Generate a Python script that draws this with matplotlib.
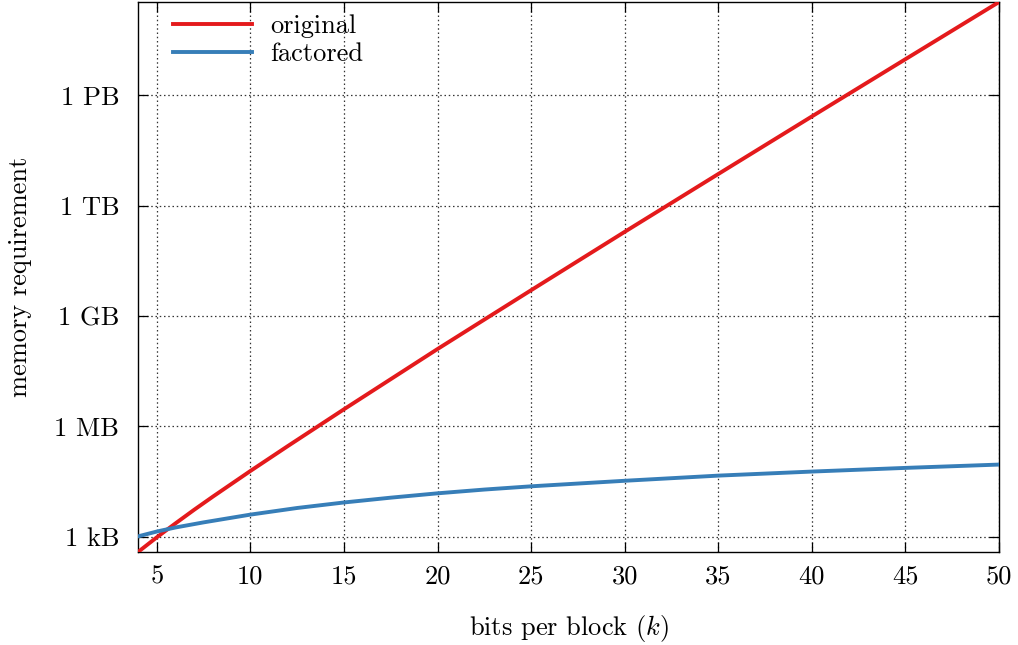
import matplotlib
matplotlib.use("Agg")
import matplotlib.pyplot as plt
from matplotlib.patches import Rectangle

# Data (bytes)
k_original = [4, 5, 6, 7, 8, 10, 12, 15, 20, 25, 30, 35, 40, 45, 50]
mem_original = [384, 960, 2.3e3, 5.4e3, 1.23e4, 6.1e4, 2.9e5, 2.9e6, 1.26e8,
                5.0e9, 1.93e11, 7.2e12, 2.64e14, 9.5e15, 3.4e17]
k_factored = [4, 5, 6, 7.5, 10, 12.5, 15, 17.5, 20, 22.5, 25, 30, 35, 40, 45, 50]
mem_factored = [1020, 1380, 1780, 2450, 3980, 6030, 8510, 11500, 15100, 19100,
                23400, 33100, 45700, 58900, 74100, 91200]

ytick_vals = [1e3, 1e6, 1e9, 1e12, 1e15]
ytick_labels = ["1 kB", "1 MB", "1 GB", "1 TB", "1 PB"]
xtick_vals = [5, 10, 15, 20, 25, 30, 35, 40, 45, 50]

plt.rcParams['font.family'] = ['cmr10', 'DejaVu Serif']
plt.rcParams['mathtext.fontset'] = 'cm'
plt.rcParams['axes.unicode_minus'] = False
plt.rcParams['axes.formatter.use_mathtext'] = True

fs = 19
fig = plt.figure(figsize=(10.18, 6.45), dpi=100)
ax = fig.add_axes([0.1356, 0.1442, 0.8458, 0.8527])

ax.plot(k_original, mem_original, color='#e41a1c', lw=2.8, label='original', zorder=3)
ax.plot(k_factored, mem_factored, color='#377eb8', lw=2.8, label='factored', zorder=3)

ax.set_yscale('log')
ax.set_xlim(4, 50)
ax.set_ylim(384, 3.4e17)
ax.set_yticks(ytick_vals)
ax.set_yticklabels(ytick_labels)
ax.set_xticks(xtick_vals)
ax.set_xticklabels([str(v) for v in xtick_vals])
ax.yaxis.set_minor_locator(matplotlib.ticker.NullLocator())
ax.xaxis.set_minor_locator(matplotlib.ticker.NullLocator())

ax.tick_params(direction='in', length=7, width=0.9, top=True, right=True,
               labelsize=fs, colors='black')
ax.tick_params(axis='y', pad=13.5)
ax.tick_params(axis='x', pad=9)
ax.grid(True, linestyle=(0, (1.2, 2.2)), color='#333333', linewidth=0.9, zorder=0)
for s in ax.spines.values():
    s.set_linewidth(1.0)

ax.set_xlabel('bits per block ($k$)', fontsize=fs, labelpad=18)
ax.set_ylabel('memory requirement', fontsize=fs, labelpad=16)

# white key area clearing the grid behind the legend
ax.add_patch(Rectangle((0, 0.876), 0.281, 0.124, transform=ax.transAxes,
                       facecolor='white', edgecolor='none', zorder=1))

leg = ax.legend(loc='upper left', bbox_to_anchor=(0.0407, 0.978), fontsize=fs,
                frameon=False, handlelength=3.0, handletextpad=0.68,
                labelspacing=0.18, borderaxespad=0.0, borderpad=0.0)
leg.set_zorder(5)

fig.savefig('out.png', dpi=100)
